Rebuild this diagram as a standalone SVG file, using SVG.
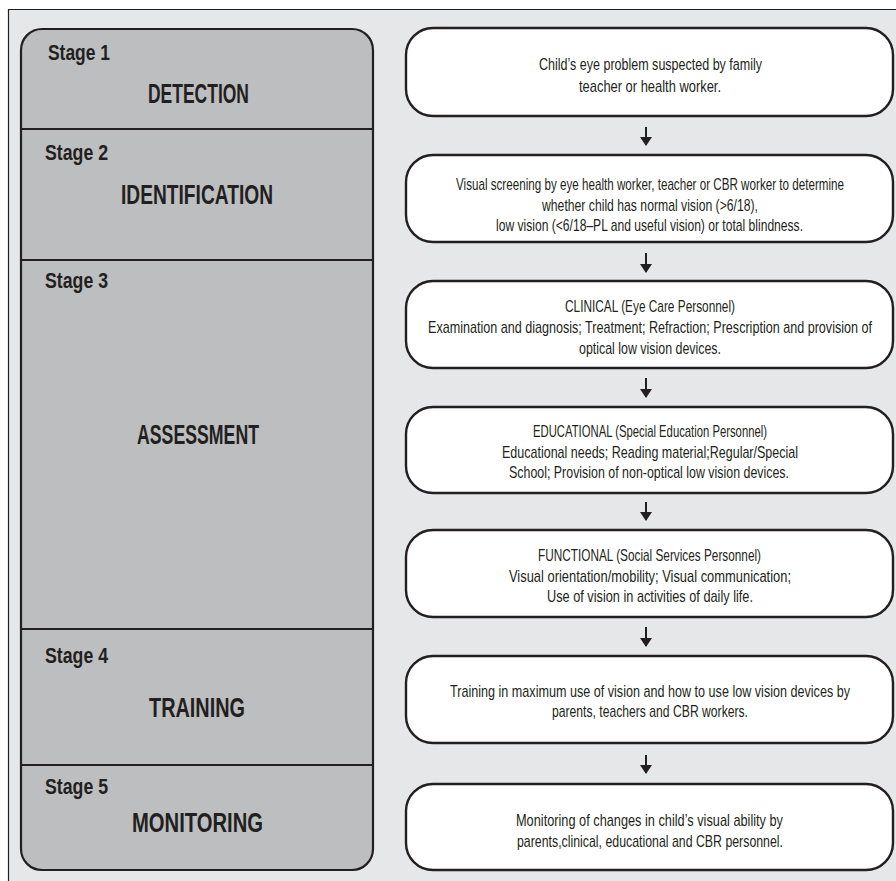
<svg xmlns="http://www.w3.org/2000/svg" width="896" height="881" viewBox="0 0 896 881">
<defs>
<style>
.frame{fill:#e6e7e8}
.panel{fill:#bcbec0;stroke:#231f20;stroke-width:2.2}
.div{stroke:#231f20;stroke-width:2}
.box{fill:#ffffff;stroke:#231f20;stroke-width:2.4}
.stage{font-family:"Liberation Sans",Arial,sans-serif;font-weight:bold;font-size:22px;fill:#231f20}
.head{font-family:"Liberation Sans",Arial,sans-serif;font-weight:bold;font-size:27px;fill:#231f20}
.t{font-family:"Liberation Sans",Arial,sans-serif;font-size:17px;fill:#231f20}
.arr{stroke:#231f20;stroke-width:2;fill:none}
</style>
<marker id="ah" markerWidth="9" markerHeight="12" refX="8" refY="6" orient="auto" markerUnits="userSpaceOnUse" viewBox="0 0 9 12">
<path d="M0,0 L9,6 L0,12 Z" fill="#231f20"/>
</marker>
</defs>
<rect width="896" height="881" fill="#ffffff"/>
<path class="frame" d="M8.5,881 V9.5 H896 V881 Z"/>
<path d="M8.5,881 V9.5 H896" fill="none" stroke="#231f20" stroke-width="1.2"/>

<g id="stages">
<rect class="panel" x="21" y="29" width="352" height="841" rx="21" ry="21"/>
<line class="div" x1="21" y1="129" x2="373" y2="129"/>
<line class="div" x1="21" y1="260" x2="373" y2="260"/>
<line class="div" x1="21" y1="629" x2="373" y2="629"/>
<line class="div" x1="21" y1="765" x2="373" y2="765"/>
</g>
<g id="stage1">
<text class="stage" x="48" y="60" textLength="62" lengthAdjust="spacingAndGlyphs">Stage 1</text>
<text class="head" x="148" y="103" textLength="101" lengthAdjust="spacingAndGlyphs">DETECTION</text>
</g>
<g id="stage2">
<text class="stage" x="45" y="160" textLength="63" lengthAdjust="spacingAndGlyphs">Stage 2</text>
<text class="head" x="121" y="204" textLength="152" lengthAdjust="spacingAndGlyphs">IDENTIFICATION</text>
</g>
<g id="stage3">
<text class="stage" x="45" y="288" textLength="63" lengthAdjust="spacingAndGlyphs">Stage 3</text>
<text class="head" x="137" y="444" textLength="122" lengthAdjust="spacingAndGlyphs">ASSESSMENT</text>
</g>
<g id="stage4">
<text class="stage" x="45" y="663" textLength="63" lengthAdjust="spacingAndGlyphs">Stage 4</text>
<text class="head" x="149" y="717" textLength="96" lengthAdjust="spacingAndGlyphs">TRAINING</text>
</g>
<g id="stage5">
<text class="stage" x="45" y="794" textLength="63" lengthAdjust="spacingAndGlyphs">Stage 5</text>
<text class="head" x="132" y="832" textLength="131" lengthAdjust="spacingAndGlyphs">MONITORING</text>
</g>

<g id="box1">
<rect class="box" x="406" y="28" width="487" height="88" rx="27" ry="27"/>
<text class="t" x="539" y="70" textLength="223" lengthAdjust="spacingAndGlyphs">Child’s eye problem suspected by family</text>
<text class="t" x="579" y="92" textLength="142" lengthAdjust="spacingAndGlyphs">teacher or health worker.</text>
</g>
<g id="box2">
<rect class="box" x="406" y="155" width="487" height="87" rx="27" ry="27"/>
<text class="t" x="456" y="190" textLength="388" lengthAdjust="spacingAndGlyphs">Visual screening by eye health worker, teacher or CBR worker to determine</text>
<text class="t" x="542" y="211" textLength="216" lengthAdjust="spacingAndGlyphs">whether child has normal vision (&gt;6/18),</text>
<text class="t" x="496" y="231" textLength="307" lengthAdjust="spacingAndGlyphs">low vision (&lt;6/18–PL and useful vision) or total blindness.</text>
</g>
<g id="box3">
<rect class="box" x="406" y="281" width="487" height="87" rx="27" ry="27"/>
<text class="t" x="565" y="312" textLength="170" lengthAdjust="spacingAndGlyphs">CLINICAL (Eye Care Personnel)</text>
<text class="t" x="428" y="333" textLength="444" lengthAdjust="spacingAndGlyphs">Examination and diagnosis; Treatment; Refraction; Prescription and provision of</text>
<text class="t" x="579" y="354" textLength="142" lengthAdjust="spacingAndGlyphs">optical low vision devices.</text>
</g>
<g id="box4">
<rect class="box" x="406" y="407" width="487" height="86" rx="27" ry="27"/>
<text class="t" x="533" y="437" textLength="234" lengthAdjust="spacingAndGlyphs">EDUCATIONAL (Special Education Personnel)</text>
<text class="t" x="502" y="458" textLength="296" lengthAdjust="spacingAndGlyphs">Educational needs; Reading material;Regular/Special</text>
<text class="t" x="509" y="478" textLength="280" lengthAdjust="spacingAndGlyphs">School; Provision of non-optical low vision devices.</text>
</g>
<g id="box5">
<rect class="box" x="406" y="530" width="487" height="87" rx="27" ry="27"/>
<text class="t" x="538" y="561" textLength="223" lengthAdjust="spacingAndGlyphs">FUNCTIONAL (Social Services Personnel)</text>
<text class="t" x="509" y="582" textLength="282" lengthAdjust="spacingAndGlyphs">Visual orientation/mobility; Visual communication;</text>
<text class="t" x="547" y="602" textLength="206" lengthAdjust="spacingAndGlyphs">Use of vision in activities of daily life.</text>
</g>
<g id="box6">
<rect class="box" x="406" y="656" width="487" height="87" rx="27" ry="27"/>
<text class="t" x="450" y="697" textLength="400" lengthAdjust="spacingAndGlyphs">Training in maximum use of vision and how to use low vision devices by</text>
<text class="t" x="552" y="717" textLength="196" lengthAdjust="spacingAndGlyphs">parents, teachers and CBR workers.</text>
</g>
<g id="box7">
<rect class="box" x="406" y="784" width="487" height="86" rx="27" ry="27"/>
<text class="t" x="516" y="826" textLength="267" lengthAdjust="spacingAndGlyphs">Monitoring of changes in child’s visual ability by</text>
<text class="t" x="517" y="847" textLength="266" lengthAdjust="spacingAndGlyphs">parents,clinical, educational and CBR personnel.</text>
</g>

<g id="connectors">
<line class="arr" x1="646" y1="127" x2="646" y2="145" marker-end="url(#ah)"/>
<line class="arr" x1="646" y1="253" x2="646" y2="272" marker-end="url(#ah)"/>
<line class="arr" x1="646" y1="378" x2="646" y2="397" marker-end="url(#ah)"/>
<line class="arr" x1="646" y1="502" x2="646" y2="520" marker-end="url(#ah)"/>
<line class="arr" x1="646" y1="627" x2="646" y2="646" marker-end="url(#ah)"/>
<line class="arr" x1="646" y1="755" x2="646" y2="773" marker-end="url(#ah)"/>
</g>
</svg>
